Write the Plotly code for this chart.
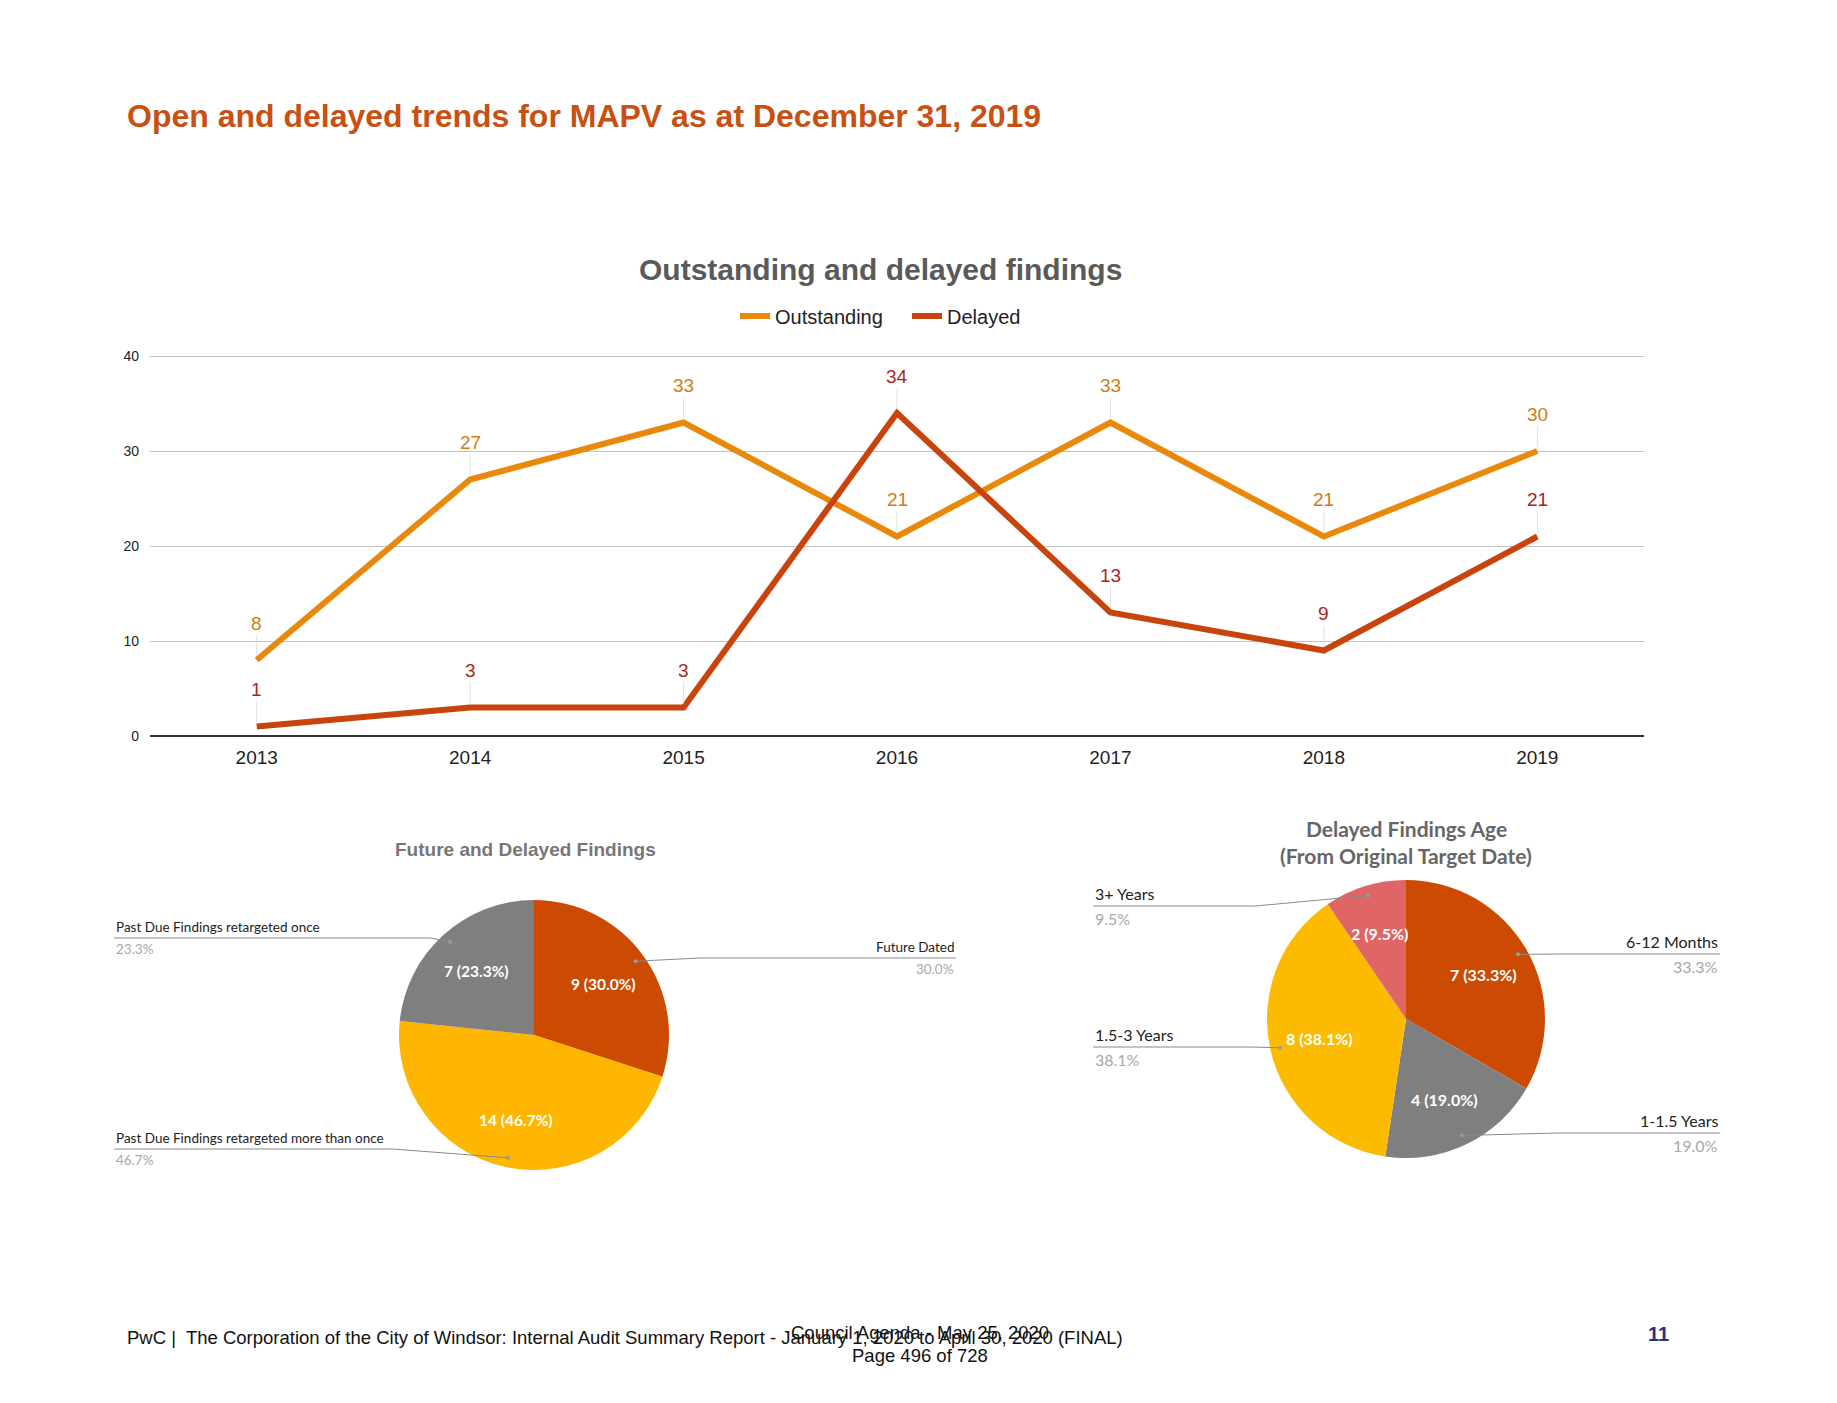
import math
import plotly.graph_objects as go

W, H = 1837, 1403

# ---------------- data ----------------
years = ["2013", "2014", "2015", "2016", "2017", "2018", "2019"]
outstanding = [8, 27, 33, 21, 33, 21, 30]
delayed = [1, 3, 3, 34, 13, 9, 21]

pie1_labels = ["Future Dated", "Past Due Findings retargeted more than once", "Past Due Findings retargeted once"]
pie1_values = [9, 14, 7]
pie1_colors = ["#CC4A02", "#FFB600", "#7F7F7F"]

pie2_labels = ["6-12 Months", "1-1.5 Years", "1.5-3 Years", "3+ Years"]
pie2_values = [7, 4, 8, 2]
pie2_colors = ["#CC4A02", "#7F7F7F", "#FDBB00", "#E06666"]

y_ticks = [0, 10, 20, 30, 40]

# ---------------- helpers ----------------
def px(x):
    return x / W

def py(y):
    return 1 - y / H

ARIAL = "Arial, Liberation Sans, sans-serif"
PIEFONT = "Lato, Open Sans, sans-serif"

OUT_COLOR = "#E8890C"
DEL_COLOR = "#C9440D"
OUT_LBL = "#CF7D12"
DEL_LBL = "#A8261A"

def ann(x, y, text, size, color, family=ARIAL, xanchor="center", yanchor="middle"):
    return dict(x=px(x), y=py(y), xref="paper", yref="paper", showarrow=False,
                xanchor=xanchor, yanchor=yanchor, text=text,
                font=dict(family=family, size=size, color=color))

fig = go.Figure()

# ---------------- line chart ----------------
fig.add_trace(go.Scatter(x=years, y=outstanding, mode="lines", name="Outstanding",
                         line=dict(color=OUT_COLOR, width=6), hoverinfo="x+y"))
fig.add_trace(go.Scatter(x=years, y=delayed, mode="lines", name="Delayed",
                         line=dict(color=DEL_COLOR, width=6), hoverinfo="x+y"))

annotations = []
for series, col in ((outstanding, OUT_LBL), (delayed, DEL_LBL)):
    for i, v in enumerate(series):
        annotations.append(dict(
            x=i, y=v, xref="x", yref="y", text=str(v), showarrow=True,
            arrowhead=0, arrowwidth=1, arrowcolor="#E0E0E0", ax=0, ay=-37,
            standoff=4, xanchor="center", yanchor="middle",
            font=dict(family=ARIAL, size=19, color=col)))

# ---------------- pies ----------------
pies = [
    dict(labels=pie1_labels, values=pie1_values, colors=pie1_colors, cx=534, cy=1035, r=135,
         lblsize=13.5, insize=15.5,
         callouts=[
             # index, side, far_x, line_y, bend_x
             (0, "right", 956, 958, 700),
             (1, "left", 114, 1149, 392),
             (2, "left", 114, 938, 430),
         ]),
    dict(labels=pie2_labels, values=pie2_values, colors=pie2_colors, cx=1406, cy=1019, r=139,
         lblsize=16, insize=16,
         callouts=[
             (0, "right", 1720, 954, 1560),
             (1, "right", 1720, 1133, 1558),
             (2, "left", 1093, 1047, 1250),
             (3, "left", 1093, 906, 1256),
         ]),
]

shapes = []
for p in pies:
    cx, cy, r = p["cx"], p["cy"], p["r"]
    fig.add_trace(go.Pie(
        labels=p["labels"], values=p["values"], sort=False, direction="clockwise",
        rotation=0, marker=dict(colors=p["colors"], line=dict(width=0)),
        textinfo="none", showlegend=False, hole=0,
        domain=dict(x=[px(cx - r), px(cx + r)], y=[py(cy + r), py(cy - r)])))
    total = sum(p["values"])
    cum = 0
    mids = []
    for v in p["values"]:
        mids.append((cum + v / 2) / total * 2 * math.pi)
        cum += v
    # inside labels
    for v, a in zip(p["values"], mids):
        f = 0.64
        x = cx + math.sin(a) * r * f
        y = cy - math.cos(a) * r * f
        annotations.append(ann(x, y, "<b>%d (%.1f%%)</b>" % (v, v / total * 100),
                               p["insize"], "white", family=PIEFONT))
    # callouts
    for idx, side, far_x, line_y, bend_x in p["callouts"]:
        a = mids[idx]
        dx = cx + math.sin(a) * r * 0.93
        dy = cy - math.cos(a) * r * 0.93
        path = "M %f,%f L %f,%f L %f,%f" % (px(far_x), py(line_y), px(bend_x), py(line_y), px(dx), py(dy))
        shapes.append(dict(type="path", path=path, xref="paper", yref="paper",
                           line=dict(color="#8A8A8A", width=1)))
        shapes.append(dict(type="circle", xref="paper", yref="paper",
                           x0=px(dx - 2), x1=px(dx + 2), y0=py(dy + 2), y1=py(dy - 2),
                           fillcolor="#9A9A9A", line=dict(width=0)))
        anchor = "left" if side == "left" else "right"
        v = p["values"][idx]
        annotations.append(ann(far_x, line_y - 1, p["labels"][idx], p["lblsize"], "#222222",
                               family=PIEFONT, xanchor=anchor, yanchor="bottom"))
        annotations.append(ann(far_x, line_y + 1, "%.1f%%" % (v / total * 100), p["lblsize"], "#A8A8A8",
                               family=PIEFONT, xanchor=anchor, yanchor="top"))

# ---------------- titles and page texts ----------------
annotations += [
    ann(125, 116, "<b>Open and delayed trends for MAPV as at December 31, 2019</b>", 32, "#C85012",
        xanchor="left"),
    ann(880, 269, "<b>Outstanding and delayed findings</b>", 30, "#5A5A5A"),
    ann(525, 849, "<b>Future and Delayed Findings</b>", 19, "#777777"),
    ann(1406, 828, "<b>Delayed Findings Age</b>", 21, "#666666", family=PIEFONT),
    ann(1406, 856, "<b>(From Original Target Date)</b>", 21, "#666666", family=PIEFONT),
    ann(125, 1337, "PwC |  The Corporation of the City of Windsor: Internal Audit Summary Report - "
                   "January 1, 2020 to April 30, 2020 (FINAL)", 18.5, "#111111", xanchor="left"),
    ann(920, 1332, "Council Agenda - May 25, 2020", 18.5, "#111111"),
    ann(920, 1355, "Page 496 of 728", 18.5, "#111111"),
    ann(1658, 1334, "<b>11</b>", 20, "#2B2E83"),
]

y_top = 40.2
fig.update_layout(
    width=W, height=H, margin=dict(l=0, r=0, t=0, b=0, autoexpand=False),
    paper_bgcolor="white", plot_bgcolor="white",
    font=dict(family=ARIAL, color="#222222"),
    showlegend=True,
    legend=dict(orientation="h", x=px(735), xanchor="left", y=py(316), yanchor="middle",
                font=dict(family=ARIAL, size=20, color="#222222"), itemwidth=30,
                entrywidth=127, entrywidthmode="pixels",
                bgcolor="rgba(0,0,0,0)"),
    xaxis=dict(domain=[px(150), px(1644)], type="category", range=[-0.5, 6.5],
               showgrid=False, zeroline=False, showline=False, ticks="",
               tickfont=dict(family=ARIAL, size=19, color="#222222"), ticklabelstandoff=8,
               fixedrange=True),
    yaxis=dict(domain=[py(736), py(736 - 380 * y_top / 40)], range=[0, y_top], tickvals=y_ticks,
               showgrid=True, gridcolor="#C3C3C3", gridwidth=1,
               zeroline=True, zerolinecolor="#333333", zerolinewidth=1.6,
               showline=False, ticks="", ticklabelstandoff=10,
               tickfont=dict(family=ARIAL, size=14, color="#222222"), fixedrange=True),
    annotations=annotations,
    shapes=shapes,
)

fig.write_html("out.html")
